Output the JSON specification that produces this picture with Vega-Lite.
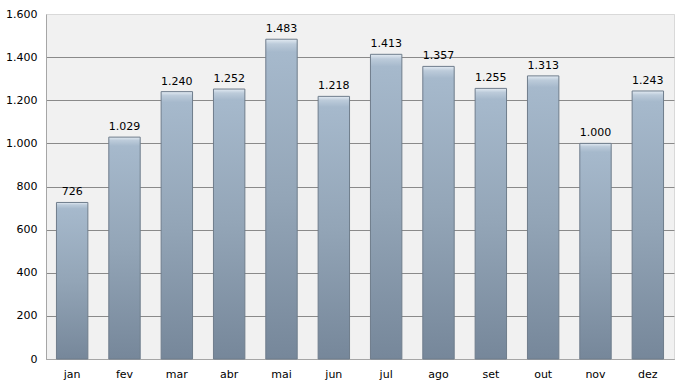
{
  "$schema": "https://vega.github.io/schema/vega-lite/v6.json",
  "width": 628,
  "height": 345,
  "autosize": {"type": "none"},
  "padding": {"left": 46, "top": 14, "right": 14, "bottom": 26},
  "background": "white",
  "config": {
    "locale": {"number": {"decimal": ",", "thousands": ".", "grouping": [3], "currency": ["R$", ""]}},
    "view": {"stroke": "#d9d9d9", "fill": "#f1f1f1"},
    "font": "DejaVu Sans"
  },
  "data": {
    "values": [
      {"mes": "jan", "valor": 726},
      {"mes": "fev", "valor": 1029},
      {"mes": "mar", "valor": 1240},
      {"mes": "abr", "valor": 1252},
      {"mes": "mai", "valor": 1483},
      {"mes": "jun", "valor": 1218},
      {"mes": "jul", "valor": 1413},
      {"mes": "ago", "valor": 1357},
      {"mes": "set", "valor": 1255},
      {"mes": "out", "valor": 1313},
      {"mes": "nov", "valor": 1000},
      {"mes": "dez", "valor": 1243}
    ]
  },
  "encoding": {
    "x": {
      "field": "mes", "type": "nominal", "sort": null,
      "scale": {"paddingInner": 0.4, "paddingOuter": 0.2},
      "axis": {"title": null, "labelAngle": 0, "ticks": false, "labelPadding": 9, "labelFontSize": 11, "labelColor": "#000", "domainColor": "#a6a6a6", "labelFont": "DejaVu Sans"}
    },
    "y": {
      "field": "valor", "type": "quantitative",
      "scale": {"domain": [0, 1600], "nice": false},
      "axis": {"title": null, "values": [0, 200, 400, 600, 800, 1000, 1200, 1400, 1600], "format": ",d", "ticks": false, "labelPadding": 9, "labelFontSize": 11, "labelColor": "#000", "domainColor": "#a6a6a6",
        "gridColor": {"condition": {"test": "datum.value >= 1600", "value": "#d9d9d9"}, "value": "#8a8a8a"},
        "gridOpacity": 1, "labelFont": "DejaVu Sans"}
    }
  },
  "layer": [
    {
      "mark": {
        "type": "bar",
        "stroke": "#6f7d8c",
        "strokeWidth": 1,
        "fill": {
          "gradient": "linear", "x1": 0, "y1": 0, "x2": 0, "y2": 1,
          "stops": [
            {"offset": 0, "color": "#e3ebf3"},
            {"offset": 0.015, "color": "#bccbda"},
            {"offset": 0.04, "color": "#a6b9cc"},
            {"offset": 0.5, "color": "#93a5b7"},
            {"offset": 1, "color": "#76879a"}
          ]
        }
      }
    },
    {
      "mark": {"type": "text", "dy": -10, "fontSize": 11, "color": "#000", "font": "DejaVu Sans"},
      "encoding": {"text": {"field": "valor", "type": "quantitative", "format": ",d"}}
    }
  ]
}
